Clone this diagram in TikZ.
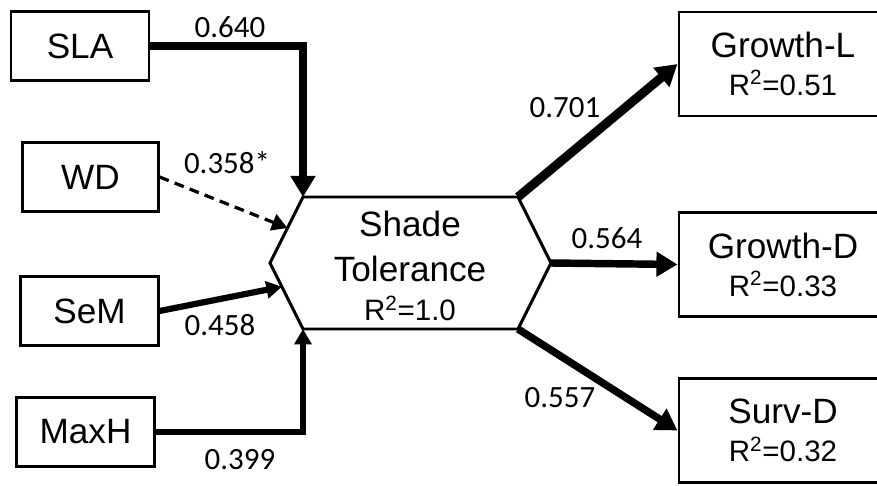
\documentclass[tikz,border=0pt]{standalone}
\usepackage{fontspec}
\setmainfont{Liberation Sans}
\newfontfamily\numfont{Carlito}
\usetikzlibrary{arrows.meta,calc}

\tikzset{
  var/.style={draw, line width=2.1pt, inner sep=0pt, minimum height=1.72cm,
    font=\fontsize{25}{30}\selectfont},
  resp/.style={draw, line width=2.1pt, inner sep=0pt, minimum width=5.2cm,
    minimum height=2.6cm, align=center, font=\fontsize{25}{27}\selectfont},
  coef/.style={inner sep=0pt, font=\numfont\fontsize{22}{26}\selectfont},
  eff/.style={line width=#1},
  bigtip/.style={-{Triangle[length=15pt,width=17pt]}},
  smalltip/.style={-{Triangle[length=11pt,width=12pt]}},
}
\newcommand{\rsq}[1]{{\fontsize{21}{26}\selectfont R\textsuperscript{2}=#1}}

\begin{document}
\begin{tikzpicture}[x=0.025cm,y=-0.025cm]
  \useasboundingbox (0,0) rectangle (877,486);
  \clip (0,0) rectangle (877,486);

  % predictors
  \node[var, minimum width=3.45cm]  (sla)  at (80,46)    {SLA};
  \node[var, minimum width=3.38cm]  (wd)   at (90.5,177) {WD};
  \node[var, minimum width=3.43cm]  (sem)  at (89.5,311) {SeM};
  \node[var, minimum width=3.43cm]  (maxh) at (85.5,432) {MaxH};

  % shade tolerance hexagon
  \coordinate (tl) at (303,197);
  \coordinate (lt) at (270,263);
  \coordinate (bl) at (303,329);
  \coordinate (br) at (518,329);
  \coordinate (rt) at (551,263);
  \coordinate (tr) at (518,197);
  \draw[line width=2.1pt, line join=miter] (tl) -- (lt) -- (bl) -- (br) -- (rt) -- (tr) -- cycle;
  \node[align=center, font=\fontsize{25}{28}\selectfont] (shade) at (410,266)
    {Shade\\[4pt]Tolerance\\\rsq{1.0}};
  \coordinate (wdin)  at ($(tl)!0.47!(lt)$);
  \coordinate (semin) at ($(lt)!0.36!(bl)$);

  % responses
  \node[resp] (gl) at (783,64)    {Growth-L\\\rsq{0.51}};
  \node[resp] (gd) at (783,264.5) {Growth-D\\\rsq{0.33}};
  \node[resp] (sd) at (783,430.5) {Surv-D\\\rsq{0.32}};

  % paths
  \draw[eff=6pt, bigtip] (sla.east) -| (tl);
  \draw[eff=2.3pt, smalltip, dash pattern=on 7pt off 4.5pt] (wd.east) -- (wdin);
  \draw[eff=4.4pt, smalltip] (sem.east) -- (semin);
  \draw[eff=4.2pt, smalltip] (maxh.east) -| (bl);
  \draw[eff=6.4pt, bigtip] (tr) -- (gl.west);
  \draw[eff=5.3pt, bigtip] (rt) -- (gd.west);
  \draw[eff=5.3pt, bigtip] (br) -- (sd.west);

  % coefficients
  \node[coef] (c1) at (230,27)  {0.640};
  \node[coef] (c2) at (227,163) {0.358*};
  \node[coef] (c3) at (220,325) {0.458};
  \node[coef] (c4) at (240,460) {0.399};
  \node[coef] (c5) at (565,108) {0.701};
  \node[coef] (c6) at (607,238) {0.564};
  \node[coef] (c7) at (560,398) {0.557};
\end{tikzpicture}
\end{document}
